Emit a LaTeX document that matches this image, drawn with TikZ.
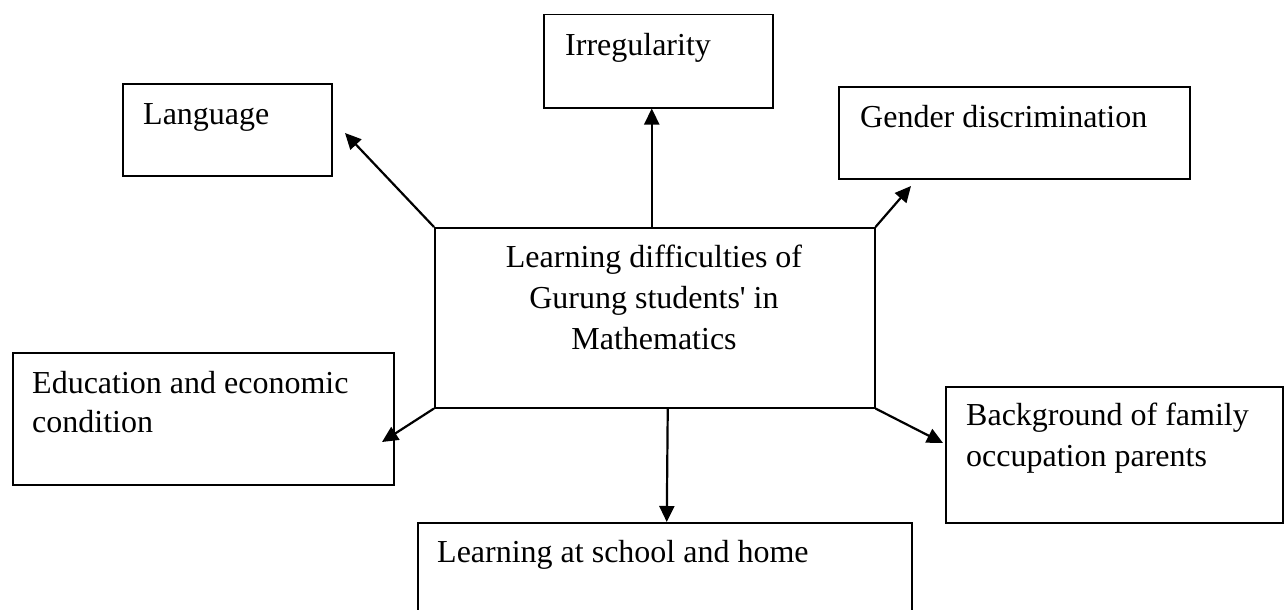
\documentclass[tikz,border=0pt]{standalone}
\usepackage{fontspec}
\setmainfont{Liberation Serif}
\usetikzlibrary{arrows.meta,calc}
\begin{document}
\begin{tikzpicture}[x=1pt,y=-1pt,
  box/.style={draw=black, line width=1.5pt, anchor=north west, inner sep=0pt},
  lbl/.style={anchor=base west, inner sep=0pt, font=\fontsize{32}{41}\selectfont},
  arr/.style={line width=2.2pt, -{Triangle[length=16pt,width=15pt]}}]
\useasboundingbox (0,0) rectangle (1285,610);
\clip (0,0) rectangle (1285,610);

% boxes
\node[box, minimum width=209pt, minimum height=92pt]  (lang)  at (122,83)  {};
\node[box, minimum width=229pt, minimum height=93pt]  (irr)   at (543,14)  {};
\node[box, minimum width=351pt, minimum height=92pt]  (gen)   at (838,86)  {};
\node[box, minimum width=440pt, minimum height=180pt] (c)     at (434,227) {};
\node[box, minimum width=381pt, minimum height=132pt] (edu)   at (12,352)  {};
\node[box, minimum width=337pt, minimum height=136pt] (bg)    at (945,386) {};
\node[box, minimum width=494pt, minimum height=120pt] (learn) at (417,522) {};

% labels
\node[lbl] (langt)  at ($(lang.north west)+(21,41)$)  {Language};
\node[lbl] (irrt)   at ($(irr.north west)+(22,42)$)   {Irregularity};
\node[lbl] (gent)   at ($(gen.north west)+(22,41)$)   {Gender discrimination};
\node[lbl] (edut1)  at ($(edu.north west)+(20,41)$)   {Education and economic};
\node[lbl] (edut2)  at ($(edu.north west)+(20,80)$)   {condition};
\node[lbl] (bgt1)   at ($(bg.north west)+(21,39)$)    {Background of family};
\node[lbl] (bgt2)   at ($(bg.north west)+(21,80)$)    {occupation parents};
\node[lbl] (learnt) at ($(learn.north west)+(20,40)$) {Learning at school and home};
\node[font=\fontsize{32}{41}\selectfont, align=center, inner sep=0pt] (ct) at (654,297)
  {Learning difficulties of\\Gurung students\textquotesingle{} in\\Mathematics};

% free arrow ends
\coordinate (tL) at (345,133);
\coordinate (tG) at (911,186);
\coordinate (tE) at (382,442);
\coordinate (tB) at (943,443);

% connectors
\draw[arr] (c.north west) -- (tL);
\draw[arr] ([xshift=-3pt]c.north) -- ([xshift=-6.5pt]irr.south);
\draw[arr] (c.north east) -- (tG);
\draw[arr] (c.south west) -- (tE);
\draw[arr] ([xshift=13pt]c.south) -- ([xshift=2pt]learn.north);
\draw[arr] (c.south east) -- (tB);
\end{tikzpicture}
\end{document}
